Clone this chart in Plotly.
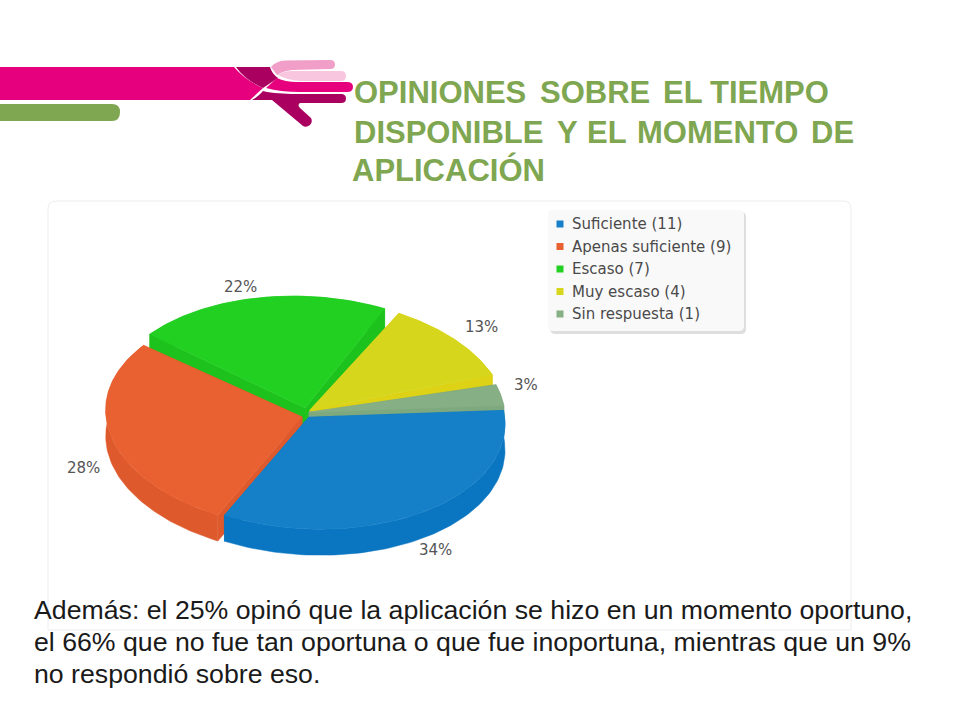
import numpy as np
import plotly.graph_objects as go

# Datos del gráfico
categorias = ["Suficiente", "Apenas suficiente", "Escaso", "Muy escaso", "Sin respuesta"]
respuestas = [11, 9, 7, 4, 1]
porcentajes = [34, 28, 22, 13, 3]

titulo = [["OPINIONES", "SOBRE", "EL", "TIEMPO"], ["DISPONIBLE", "Y", "EL", "MOMENTO", "DE"], ["APLICACIÓN"]]
texto = [
    "Además: el 25% opinó que la aplicación se hizo en un momento oportuno,",
    "el 66% que no fue tan oportuna o que fue inoportuna, mientras que un 9%",
    "no respondió sobre eso.",
]

# Colores y geometría de la torta (en píxeles de la página)
colores = ["#1580C8", "#E96031", "#22D022", "#D6D61C", "#86AF86"]
colores_lado = ["#0A75C0", "#DE5A2D", "#1DC21D", "#DDD215", "#7EA87E"]
CX, CY = 306, 413
A, B = 196, 112
SKEW = 12
GIRO = np.radians(-3.5)
EXPLOTA = 5
ALTO = 26
VERDE = "#7FA650"
# retoques por porción: desplazamiento en px y recorte del ángulo en grados
despl = [(0, 0), (1, 3), (0, 0), (0, 0), (-2, 0)]
recorte_ini = [0, 0, 1.5, 1.5, 0]
recorte_fin = [0, 0, 1.5, 4, 0]
ajuste_etiqueta = [(3, 4), (-11, 6), (-13, -2), (10, -9), (6, -9)]
# el título va justificado: cada palabra tiene su inicio
titulo_x = [[352, 538, 661, 708], [352, 555, 585, 635, 809], [350]]
titulo_y = [92, 132, 170]


def punto(t, sx=0.0, sy=0.0):
    return sx + A * np.cos(t) + SKEW * np.sin(t), sy + B * np.sin(t)


fig = go.Figure()


def poligono(x, y, color, nombre=None):
    fig.add_trace(go.Scatter(
        x=x, y=y, mode="lines", fill="toself", fillcolor=color,
        line=dict(color=color, width=0.5), name=nombre,
        hoverinfo="name" if nombre else "skip", showlegend=False
    ))


# Cada porción sale de los porcentajes acumulados
fin = GIRO + np.cumsum(porcentajes) / sum(porcentajes) * 2 * np.pi
ini = np.concatenate([[GIRO], fin[:-1]])
medio = (ini + fin) / 2
orden = [2, 3, 4, 1, 0]  # de atrás hacia adelante

for i in orden:
    ax = CX + EXPLOTA * np.cos(medio[i]) + despl[i][0]
    ay = CY + EXPLOTA * np.sin(medio[i]) + despl[i][1]
    t = np.linspace(ini[i] + np.radians(recorte_ini[i]), fin[i] - np.radians(recorte_fin[i]), 90)
    rx, ry = punto(t, ax, ay)

    # laterales: dos cortes y el borde exterior
    poligono([ax, rx[0], rx[0], ax, ax], [ay, ry[0], ry[0] + ALTO, ay + ALTO, ay], colores_lado[i])
    poligono([ax, rx[-1], rx[-1], ax, ax], [ay, ry[-1], ry[-1] + ALTO, ay + ALTO, ay], colores_lado[i])
    poligono(np.concatenate([rx, rx[::-1]]), np.concatenate([ry, ry[::-1] + ALTO]), colores_lado[i])

    # cara superior
    poligono(np.concatenate([[ax], rx, [ax]]), np.concatenate([[ay], ry, [ay]]), colores[i], categorias[i])

# Leyenda de la imagen
filas_y = [224 + 22.5 * n for n in range(len(categorias))]
fig.add_trace(go.Scatter(
    x=[560] * len(categorias), y=filas_y, mode="markers",
    marker=dict(symbol="square", size=7, color=colores),
    hoverinfo="skip", showlegend=False
))

anotaciones = []
for n, cat in enumerate(categorias):
    anotaciones.append(dict(
        x=570, y=filas_y[n], text=f"{cat} ({respuestas[n]})", xanchor="left", yanchor="middle",
        showarrow=False, font=dict(family="DejaVu Sans", size=15, color="#4A4A4A")
    ))

# Etiquetas de porcentaje
for i, pct in enumerate(porcentajes):
    lx = CX + (A + 22) * np.cos(medio[i]) + SKEW * np.sin(medio[i])
    ly = CY + (B + 14) * np.sin(medio[i]) + (ALTO if np.sin(medio[i]) > 0 else 0)
    anotaciones.append(dict(
        x=lx + ajuste_etiqueta[i][0], y=ly + ajuste_etiqueta[i][1], text=f"{pct}%",
        showarrow=False, font=dict(family="DejaVu Sans", size=15, color="#555555")
    ))

# Título y texto inferior
for palabras, xs, y in zip(titulo, titulo_x, titulo_y):
    for palabra, x in zip(palabras, xs):
        anotaciones.append(dict(
            x=x, y=y, text=f"<b>{palabra}</b>", xanchor="left", yanchor="middle", showarrow=False,
            font=dict(family="Liberation Sans", size=31, color=VERDE)
        ))
for linea, y in zip(texto, [610, 642, 674]):
    anotaciones.append(dict(
        x=32, y=y, text=linea, xanchor="left", yanchor="middle", showarrow=False,
        font=dict(family="Liberation Sans", size=26.7, color="#1A1A1A")
    ))

# Mano y bandas de la plantilla
ROSA = "#E6007E"
OSCURO = "#AA005F"
formas = [
    dict(type="path", layer="below", path="M56,201 L843,201 Q851,201 851,209 L851,630 L48,630 L48,209 Q48,201 56,201 Z",
         fillcolor="white", line=dict(color="#EDEDED", width=1)),
    dict(type="path", path="M0,67 L234,67 Q245,80 263,88 L250,100 L0,100 Z", fillcolor=ROSA, line=dict(width=0)),
    dict(type="path", path="M236,67 L270,67 Q272,74 278,78 L263,88 Q245,80 236,67 Z", fillcolor=OSCURO, line=dict(width=0)),
    dict(type="path", path="M271,67 Q276,61 285,60.5 L330,60 Q335,60 335,64.5 Q335,69 330,69 L292,70 Q283,71 277,75 Z",
         fillcolor="#F19EC8", line=dict(width=0)),
    dict(type="path", path="M278,75 Q283,71 292,71 L341,71 Q346,71 346,76 Q346,81 341,81 L300,81 Q287,80 278,75 Z",
         fillcolor="#F9C6E0", line=dict(width=0)),
    dict(type="path", path="M277,78 Q285,82 297,82 L347,82 Q353,82 353,87 Q353,92 347,92 L300,92 Q280,92 266,88 Z",
         fillcolor=ROSA, line=dict(width=0)),
    dict(type="path", path="M267,92 Q282,94 300,94 L341,94 Q346,94 346,98.5 Q346,103 341,103 L300,103 Q297,105 300,108 "
                            "L311,118 Q313,122 310,125 Q306,128 303,126 L272,100 L252,100 Q258,97 263,91 Z",
         fillcolor=OSCURO, line=dict(width=0)),
    dict(type="path", path="M0,104 L112,104 Q120,104 120,112 Q120,121 112,121 L0,121 Z", fillcolor=VERDE, line=dict(width=0)),
    # caja de la leyenda
    dict(type="path", path="M556,212 L741,212 Q746,212 746,217 L746,329 Q746,334 741,334 L556,334 Q550,334 550,329 L550,217 Q550,212 556,212 Z",
         fillcolor="#DEDEDE", line=dict(width=0), layer="below"),
    dict(type="path", path="M553,210 L739,210 Q744,210 744,215 L744,326 Q744,331 739,331 L553,331 Q548,331 548,326 L548,215 Q548,210 553,210 Z",
         fillcolor="#F9F9F9", line=dict(width=0), layer="below"),
]

fig.update_layout(
    width=960, height=720,
    margin=dict(l=0, r=0, t=0, b=0),
    paper_bgcolor="white", plot_bgcolor="white",
    xaxis=dict(range=[0, 960], visible=False, fixedrange=True),
    yaxis=dict(range=[720, 0], visible=False, fixedrange=True),
    shapes=formas, annotations=anotaciones, showlegend=False
)

fig.write_html("out.html", config={"displayModeBar": False}, post_script="document.body.style.margin='0';")
